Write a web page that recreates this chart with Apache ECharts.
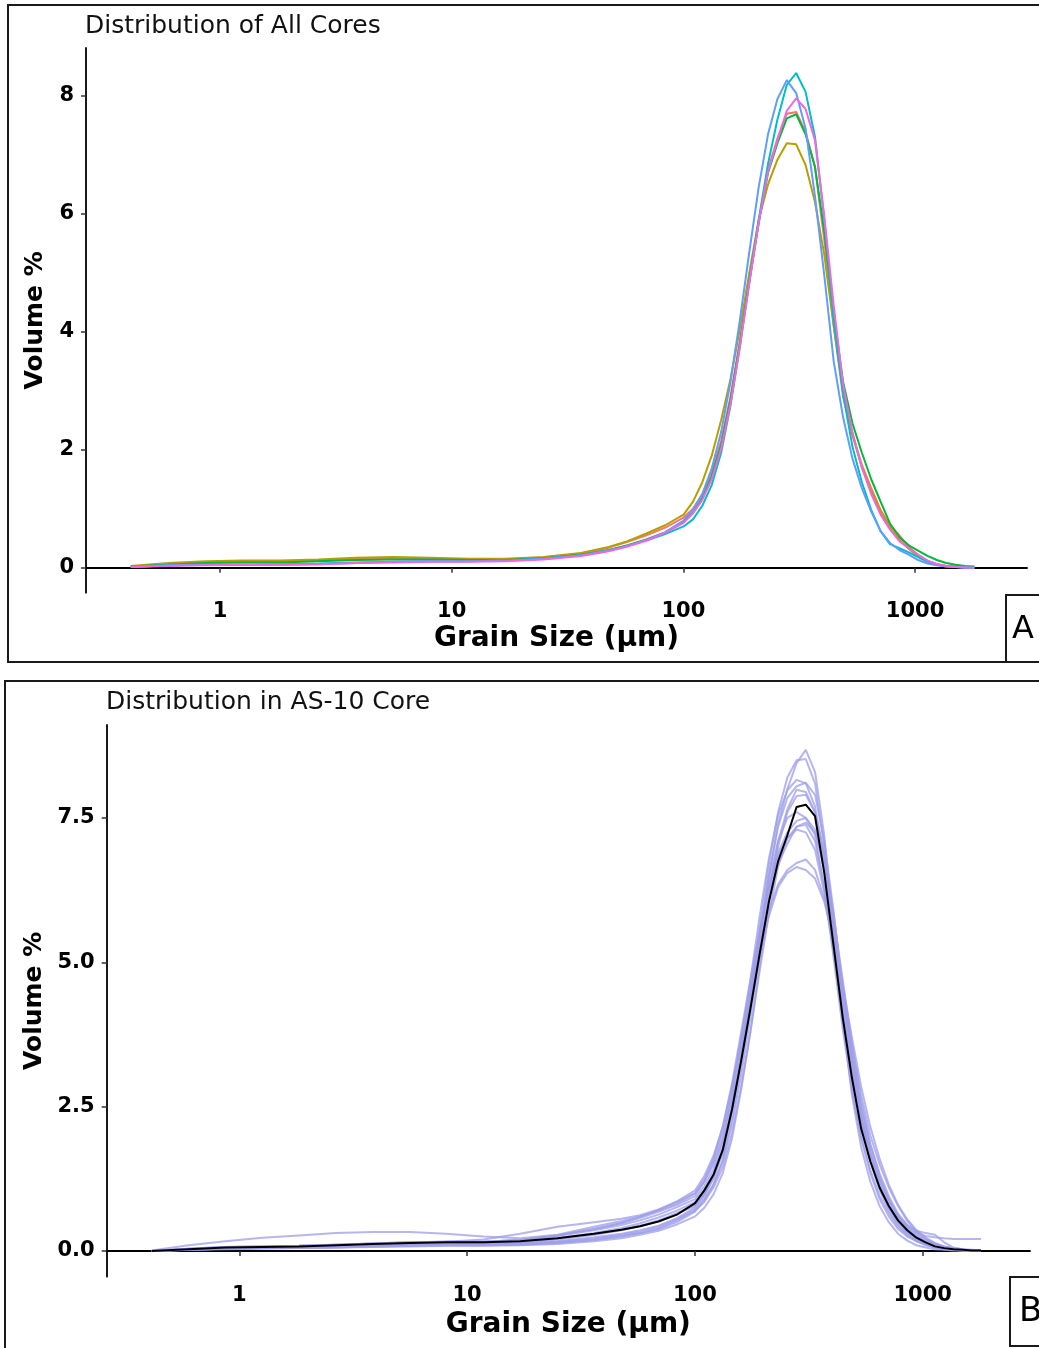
<!DOCTYPE html>
<html>
<head>
<meta charset="utf-8">
<title>Grain size distributions</title>
<script src="https://cdn.jsdelivr.net/npm/echarts@6/dist/echarts.min.js"></script>
<style>
  html, body { margin: 0; padding: 0; background: #ffffff; }
  #chart { width: 1039px; height: 1348px; }
</style>
</head>
<body>
<div id="chart"></div>
<script>
// Laser-diffraction size channels (µm)
const grainSize = [0.412, 0.6, 0.868, 1.26, 1.83, 2.65, 3.85, 5.6, 8.1, 11.8, 17.1, 24.9, 36.1, 47.6, 57.4, 69.2, 83.4,
  100.2, 110.0, 120.7, 132.5, 145.5, 159.7, 175.3, 192.5, 211.3, 231.9, 254.6, 279.5, 306.8,
  336.8, 369.7, 405.8, 445.4, 488.9, 536.7, 589.1, 646.6, 709.8, 779.1, 855.2, 938.8, 1030, 1131, 1242, 1363, 1496, 1642, 1803];

const xTicks = [1, 10, 100, 1000];
const yTicksAll = [0, 2, 4, 6, 8];
const yTicksCore = [0, 2.5, 5, 7.5];

// Panel A: mean distribution of each core (volume %)
const coreRed = [0.02,0.06,0.09,0.10,0.10,0.12,0.15,0.16,0.15,0.13,0.13,0.17,0.24,0.34,0.44,0.55,0.68,
  0.85,1.00,1.25,1.62,2.15,2.90,3.85,4.90,5.85,6.75,7.28,7.70,7.73,
  7.39,6.80,5.55,4.10,2.90,2.25,1.75,1.35,0.98,0.72,0.55,0.35,0.22,0.12,0.06,0.03,0.02,0.01,0.01];
const coreGold = [0.03,0.08,0.11,0.12,0.12,0.14,0.17,0.18,0.17,0.15,0.15,0.18,0.25,0.35,0.45,0.58,0.72,
  0.90,1.12,1.45,1.90,2.50,3.20,4.05,5.00,5.90,6.50,6.92,7.20,7.18,
  6.83,6.20,5.30,4.10,3.00,2.25,1.70,1.30,0.95,0.68,0.48,0.32,0.20,0.11,0.06,0.03,0.02,0.01,0.01];
const coreGreen = [0.02,0.05,0.08,0.09,0.09,0.11,0.13,0.14,0.14,0.13,0.13,0.16,0.22,0.30,0.38,0.48,0.60,
  0.78,0.93,1.18,1.55,2.08,2.85,3.80,4.85,5.85,6.70,7.20,7.62,7.69,
  7.35,6.80,5.70,4.30,3.15,2.45,1.95,1.50,1.12,0.75,0.52,0.38,0.29,0.20,0.13,0.08,0.05,0.03,0.02];
const coreTeal = [0.01,0.04,0.05,0.05,0.06,0.07,0.09,0.10,0.11,0.11,0.12,0.15,0.21,0.29,0.37,0.46,0.57,
  0.70,0.82,1.05,1.40,1.95,2.75,3.75,4.85,5.90,6.85,7.60,8.19,8.39,
  8.07,7.31,5.90,4.20,2.95,2.05,1.45,0.98,0.62,0.40,0.33,0.26,0.18,0.10,0.05,0.02,0.01,0.00,0.00];
const coreBlue = [0.01,0.04,0.05,0.05,0.05,0.06,0.08,0.10,0.11,0.11,0.12,0.15,0.21,0.29,0.37,0.47,0.60,
  0.80,0.98,1.25,1.68,2.30,3.15,4.20,5.35,6.45,7.35,7.95,8.27,8.05,
  7.45,6.30,4.95,3.50,2.55,1.85,1.35,0.95,0.62,0.42,0.30,0.22,0.13,0.07,0.04,0.02,0.01,0.01,0.00];
const coreMagenta = [0.01,0.03,0.04,0.05,0.05,0.06,0.08,0.09,0.10,0.10,0.11,0.14,0.20,0.28,0.36,0.46,0.59,
  0.76,0.92,1.15,1.50,2.02,2.78,3.75,4.82,5.85,6.72,7.25,7.75,7.96,
  7.78,7.25,5.95,4.45,3.10,2.30,1.70,1.25,0.90,0.65,0.45,0.33,0.22,0.12,0.06,0.03,0.01,0.00,0.00];

// Panel B: individual AS-10 samples and their mean
const as10Sample01 = [0.00,0.02,0.04,0.05,0.05,0.06,0.08,0.09,0.10,0.10,0.11,0.14,0.20,0.26,0.31,0.38,0.50,
  0.68,0.88,1.15,1.58,2.30,3.20,4.25,5.40,6.50,7.40,8.00,8.45,8.68,
  8.30,7.20,5.60,4.00,2.70,1.80,1.20,0.78,0.50,0.30,0.18,0.10,0.06,0.03,0.02,0.01,0.01,0.00,0.00];
const as10Sample02 = [0.00,0.03,0.05,0.06,0.06,0.08,0.10,0.11,0.12,0.12,0.13,0.17,0.24,0.30,0.36,0.44,0.57,
  0.75,0.95,1.25,1.70,2.45,3.40,4.45,5.60,6.70,7.60,8.20,8.50,8.52,
  8.10,7.00,5.50,4.00,2.80,1.95,1.35,0.90,0.60,0.38,0.25,0.17,0.12,0.08,0.05,0.03,0.02,0.01,0.01];
const as10Sample03 = [0.00,0.04,0.07,0.08,0.09,0.11,0.13,0.15,0.16,0.16,0.19,0.26,0.36,0.45,0.53,0.63,0.76,
  0.90,1.12,1.42,1.90,2.70,3.65,4.70,5.80,6.80,7.55,7.98,8.16,8.10,
  7.70,6.80,5.60,4.30,3.20,2.30,1.60,1.10,0.75,0.50,0.32,0.20,0.12,0.07,0.04,0.02,0.01,0.01,0.00];
const as10Sample04 = [0.00,0.02,0.04,0.05,0.06,0.07,0.09,0.11,0.12,0.12,0.13,0.16,0.22,0.28,0.34,0.42,0.55,
  0.72,0.90,1.15,1.55,2.20,3.05,4.05,5.15,6.20,7.10,7.65,7.99,7.95,
  7.60,6.90,5.85,4.60,3.40,2.45,1.75,1.20,0.85,0.60,0.42,0.30,0.20,0.12,0.07,0.04,0.02,0.01,0.01];
const as10Sample05 = [0.00,0.04,0.07,0.08,0.09,0.11,0.13,0.15,0.16,0.16,0.19,0.27,0.38,0.48,0.57,0.68,0.80,
  0.95,1.20,1.55,2.05,2.80,3.70,4.60,5.50,6.30,6.90,7.25,7.45,7.50,
  7.30,6.60,5.60,4.50,3.40,2.50,1.85,1.35,0.95,0.65,0.45,0.32,0.26,0.24,0.22,0.21,0.21,0.21,0.21];
const as10Sample06 = [0.00,0.02,0.04,0.05,0.05,0.06,0.08,0.09,0.10,0.10,0.11,0.14,0.19,0.25,0.31,0.39,0.53,
  0.70,0.85,1.10,1.45,2.05,2.85,3.80,4.85,5.85,6.65,7.15,7.35,7.42,
  7.25,6.70,5.80,4.70,3.60,2.60,1.85,1.30,0.90,0.60,0.40,0.27,0.18,0.12,0.08,0.05,0.03,0.02,0.01];
const as10Sample07 = [0.00,0.04,0.07,0.08,0.09,0.11,0.13,0.15,0.16,0.16,0.19,0.27,0.38,0.49,0.59,0.71,0.85,
  1.00,1.25,1.60,2.15,2.90,3.80,4.70,5.55,6.30,6.85,7.15,7.30,7.25,
  6.95,6.20,5.20,4.10,3.10,2.30,1.70,1.25,0.90,0.62,0.45,0.35,0.31,0.28,0.15,0.06,0.03,0.01,0.01];
const as10Sample08 = [0.00,0.03,0.06,0.07,0.08,0.10,0.12,0.14,0.16,0.20,0.30,0.42,0.50,0.56,0.62,0.72,0.86,
  1.05,1.30,1.65,2.15,2.85,3.65,4.45,5.25,5.90,6.35,6.60,6.72,6.78,
  6.60,6.10,5.40,4.50,3.55,2.70,2.00,1.50,1.10,0.78,0.52,0.34,0.22,0.13,0.07,0.04,0.02,0.01,0.01];
const as10Sample09 = [0.00,0.03,0.05,0.06,0.07,0.09,0.11,0.13,0.14,0.14,0.16,0.22,0.31,0.40,0.48,0.58,0.70,
  0.85,1.05,1.35,1.80,2.50,3.35,4.25,5.10,5.80,6.30,6.55,6.65,6.60,
  6.45,6.05,5.40,4.60,3.70,2.85,2.15,1.60,1.15,0.80,0.55,0.36,0.23,0.14,0.08,0.04,0.02,0.01,0.01];
const as10Sample10 = [0.00,0.02,0.03,0.04,0.05,0.06,0.07,0.08,0.09,0.09,0.10,0.12,0.17,0.22,0.28,0.35,0.46,
  0.60,0.75,0.98,1.35,1.95,2.80,3.80,4.95,6.05,7.00,7.60,7.88,7.90,
  7.60,6.80,5.60,4.25,3.10,2.20,1.55,1.05,0.70,0.45,0.29,0.18,0.11,0.06,0.03,0.02,0.01,0.00,0.00];
const as10Sample11 = [0.00,0.03,0.05,0.06,0.07,0.08,0.10,0.12,0.13,0.13,0.15,0.20,0.28,0.36,0.43,0.52,0.65,
  0.80,1.00,1.30,1.75,2.50,3.40,4.40,5.45,6.40,7.10,7.50,7.60,7.50,
  7.20,6.30,5.10,3.85,2.80,2.00,1.40,0.95,0.65,0.42,0.27,0.17,0.10,0.06,0.03,0.02,0.01,0.00,0.00];
const as10Sample12 = [0.01,0.10,0.17,0.23,0.27,0.31,0.33,0.33,0.30,0.25,0.22,0.28,0.42,0.52,0.60,0.70,0.82,
  1.00,1.20,1.50,1.95,2.65,3.50,4.40,5.30,6.10,6.70,7.05,7.35,7.38,
  7.10,6.30,5.20,4.00,3.00,2.20,1.60,1.15,0.80,0.55,0.37,0.25,0.16,0.10,0.06,0.03,0.02,0.01,0.01];
const as10Sample13 = [0.00,0.03,0.05,0.06,0.07,0.09,0.11,0.13,0.14,0.14,0.16,0.21,0.29,0.37,0.44,0.53,0.65,
  0.78,0.98,1.28,1.72,2.45,3.35,4.35,5.45,6.50,7.35,7.85,8.05,8.11,
  7.90,7.10,5.90,4.50,3.30,2.35,1.65,1.12,0.75,0.50,0.33,0.21,0.13,0.08,0.04,0.02,0.01,0.01,0.00];
const as10Mean = [0.00,0.03,0.06,0.07,0.08,0.10,0.12,0.14,0.15,0.15,0.17,0.22,0.30,0.37,0.43,0.51,0.63,
  0.83,1.05,1.32,1.75,2.45,3.30,4.20,5.15,6.05,6.75,7.20,7.69,7.73,
  7.53,6.55,5.30,4.05,3.00,2.12,1.55,1.10,0.78,0.53,0.36,0.23,0.15,0.08,0.05,0.03,0.02,0.01,0.01];

const coreSeries = [
  { name: 'core 1', values: coreRed, color: '#F8766D' },
  { name: 'core 2', values: coreGold, color: '#B79F00' },
  { name: 'core 3', values: coreGreen, color: '#00BA38' },
  { name: 'core 4', values: coreTeal, color: '#00BFC4' },
  { name: 'core 5', values: coreBlue, color: '#619CFF' },
  { name: 'core 6', values: coreMagenta, color: '#F564E3' }
];
const as10Samples = [as10Sample01, as10Sample02, as10Sample03, as10Sample04, as10Sample05, as10Sample06,
  as10Sample07, as10Sample08, as10Sample09, as10Sample10, as10Sample11, as10Sample12, as10Sample13];

const pairs = vals => grainSize.map((s, i) => [s, vals[i]]);

const FONT = 'DejaVu Sans';
const tickLabelStyle = { fontFamily: FONT, fontWeight: 'bold', fontSize: 21, color: '#000' };
const xNameStyle = { fontFamily: FONT, fontWeight: 'bold', fontSize: 28, color: '#000' };
const yNameStyle = { fontFamily: FONT, fontWeight: 'bold', fontSize: 25, color: '#000' };
const axisLineStyle = { show: true, lineStyle: { color: '#000', width: 1.8 } };

function xAxisFor(gridIndex, min, max, gap) {
  return {
    type: 'log', logBase: 10, gridIndex, min, max,
    axisLine: axisLineStyle,
    axisTick: { show: true, customValues: xTicks, length: 5, lineStyle: { color: '#333', width: 1.5 } },
    axisLabel: { customValues: xTicks, margin: 8, ...tickLabelStyle,
      formatter: v => String(Math.round(v)) },
    splitLine: { show: false },
    name: 'Grain Size (µm)', nameLocation: 'middle', nameGap: gap, nameTextStyle: xNameStyle
  };
}
function yAxisFor(gridIndex, min, max, ticks, digits, gap) {
  return {
    type: 'value', gridIndex, min, max,
    axisLine: axisLineStyle,
    axisTick: { show: true, customValues: ticks, length: 5, lineStyle: { color: '#333', width: 1.5 } },
    axisLabel: { customValues: ticks, margin: 12, ...tickLabelStyle,
      formatter: v => Number(v).toFixed(digits) },
    splitLine: { show: false },
    name: 'Volume %', nameLocation: 'middle', nameRotate: 90, nameGap: gap, nameTextStyle: yNameStyle
  };
}

const series = [];
coreSeries.forEach(c => series.push({
  type: 'line', name: c.name, xAxisIndex: 0, yAxisIndex: 0,
  data: pairs(c.values), showSymbol: false, symbol: 'none',
  lineStyle: { color: c.color, width: 2 }, itemStyle: { color: c.color }
}));
as10Samples.forEach((v, i) => series.push({
  type: 'line', name: 'AS-10 sample ' + (i + 1), xAxisIndex: 1, yAxisIndex: 1,
  data: pairs(v), showSymbol: false, symbol: 'none',
  lineStyle: { color: 'rgba(158,158,234,0.75)', width: 2 }
}));
series.push({
  type: 'line', name: 'AS-10 mean', xAxisIndex: 1, yAxisIndex: 1,
  data: pairs(as10Mean), showSymbol: false, symbol: 'none',
  lineStyle: { color: '#000', width: 2 }
});

const titleStyle = { fontFamily: FONT, fontSize: 25, fontWeight: 'normal', color: '#111' };
const frame = { stroke: '#1a1a1a', lineWidth: 2, fill: 'none' };

const option = {
  backgroundColor: '#ffffff',
  animation: false,
  title: [
    { text: 'Distribution of All Cores', left: 85, top: 14, padding: 0, textStyle: titleStyle },
    { text: 'Distribution in AS-10 Core', left: 106, top: 690, padding: 0, textStyle: titleStyle }
  ],
  grid: [
    { left: 86, top: 48, width: 941, height: 544.7 },
    { left: 106.7, top: 725, width: 923.3, height: 551.7 }
  ],
  xAxis: [ xAxisFor(0, 0.264, 3041, 32), xAxisFor(1, 0.2618, 2958, 34) ],
  yAxis: [ yAxisFor(0, -0.424, 8.814, yTicksAll, 0, 38), yAxisFor(1, -0.445, 9.11, yTicksCore, 1, 42) ],
  series,
  graphic: [
    { type: 'rect', shape: { x: 8, y: 5, width: 1040, height: 657 }, style: frame, silent: true },
    { type: 'rect', shape: { x: 5, y: 681, width: 1040, height: 680 }, style: frame, silent: true },
    { type: 'rect', shape: { x: 1006, y: 595, width: 40, height: 67 }, style: frame, silent: true },
    { type: 'text', left: 1012, top: 614, style: { text: 'A', fontFamily: FONT, fontSize: 32, fill: '#000' } },
    { type: 'rect', shape: { x: 1010, y: 1277, width: 40, height: 69 }, style: frame, silent: true },
    { type: 'text', left: 1019, top: 1295, style: { text: 'B', fontFamily: FONT, fontSize: 34, fill: '#000' } }
  ]
};

const chart = echarts.init(document.getElementById('chart'), null, { renderer: 'canvas', width: 1039, height: 1348 });
chart.setOption(option);
</script>
</body>
</html>
